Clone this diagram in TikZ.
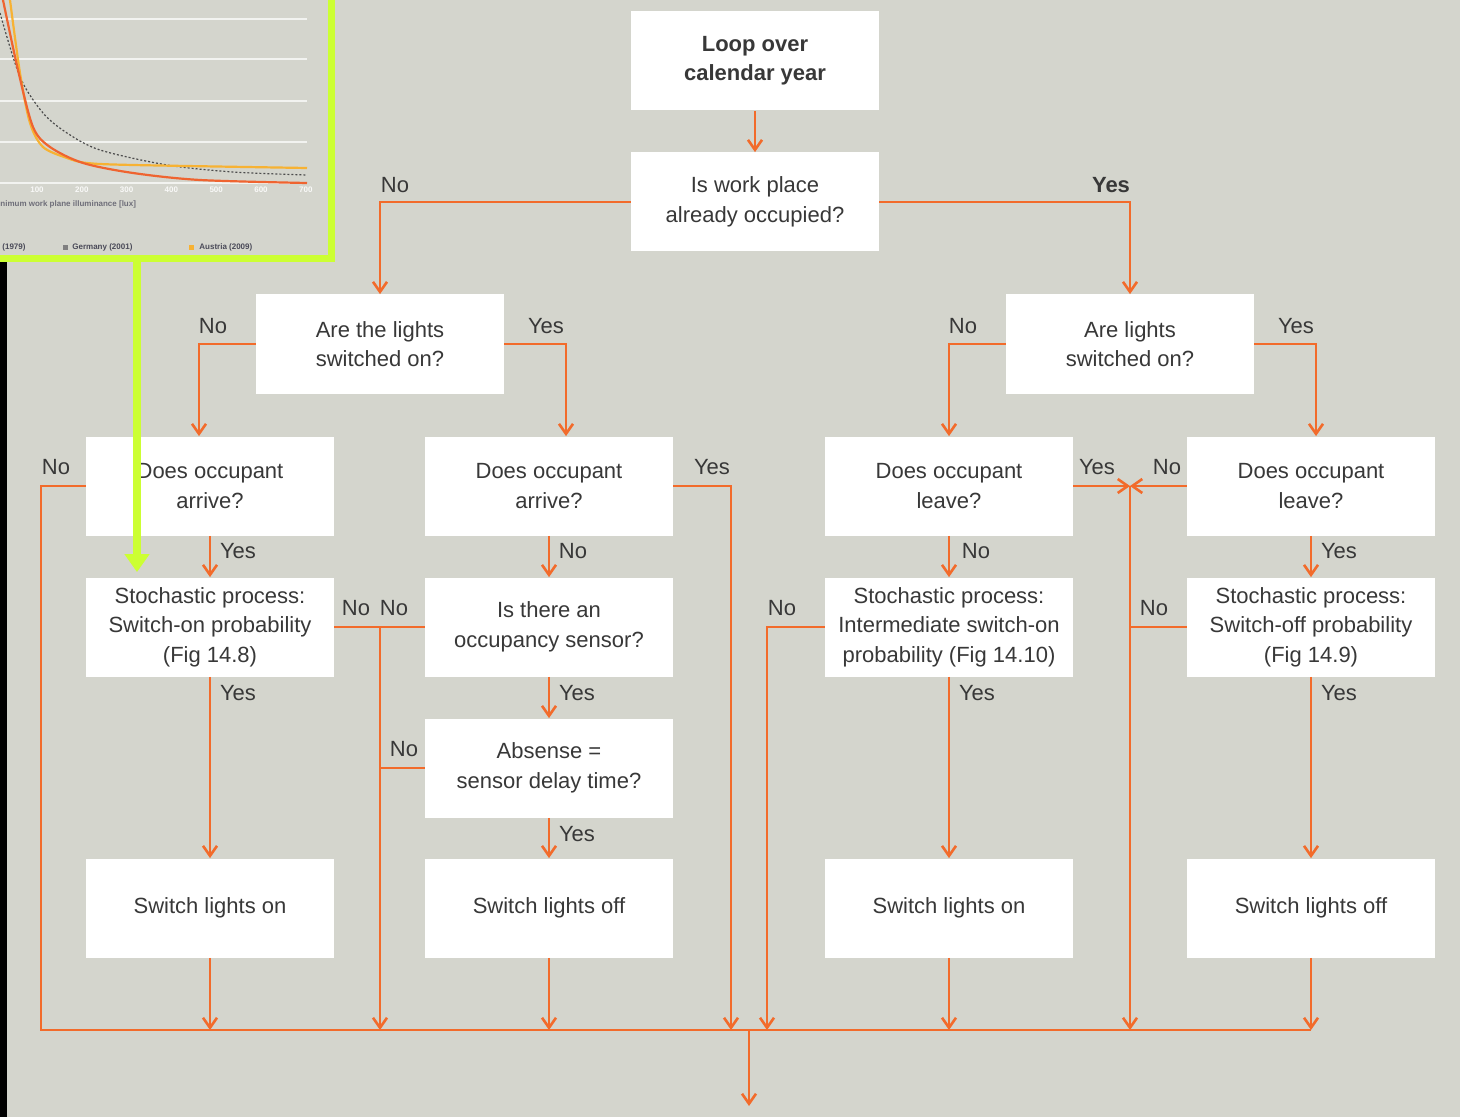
\documentclass[tikz,border=0pt]{standalone}
\usepackage{fontspec}
\setmainfont{Liberation Sans}
\usetikzlibrary{arrows.meta}

\definecolor{bggray}{HTML}{D4D5CD}
\definecolor{flowred}{HTML}{F26B2B}
\definecolor{txtgray}{HTML}{383838}
\definecolor{limegreen}{HTML}{CCFF33}
\definecolor{curvegold}{HTML}{F7B233}
\definecolor{curvered}{HTML}{EF6430}
\definecolor{legendtxt}{HTML}{4A4A58}

\newcommand{\boxfont}{\fontsize{11}{14.7}\selectfont}
\newcommand{\chartfont}{\fontsize{4}{4.5}\selectfont\bfseries}

\tikzset{
  box/.style={fill=white, minimum width=124pt, minimum height=49.5pt, inner sep=0pt, align=center, font=\boxfont, text=txtgray},
  lbl/.style={font=\boxfont, text=txtgray, inner sep=0pt},
  flow/.style={draw=flowred, line width=1.3pt},
  arr/.style={flow, -{Straight Barb[length=5pt,width=7pt]}},
  chartlbl/.style={font=\chartfont, inner sep=0pt}
}

\begin{document}
\begin{tikzpicture}[x=0.5pt, y=-0.5pt]
  \useasboundingbox (0,0) rectangle (1460,1117);
  \fill[bggray] (0,0) rectangle (1460,1117);

  % chart inset, top left
  \begin{scope}
    \clip (0,0) rectangle (331,258);
    \foreach \gy in {19,59,101,142,183}
      \draw[white!70!bggray, line width=0.6pt] (0,\gy) -- (307,\gy);
    \draw[gray!60!black, line width=0.6pt, dash pattern=on 1pt off 1pt] plot[smooth] coordinates {(0,13) (20,77) (43,113) (67,133) (100,150) (167,165) (233,172) (307,175)};
    \draw[curvegold, line width=1.1pt] plot[smooth] coordinates {(10,0) (20,73) (30,123) (43,147) (67,158) (87,163) (133,165) (307,168)};
    \draw[curvered, line width=1.1pt] plot[smooth] coordinates {(3,0) (18,70) (33,127) (50,147) (83,163) (133,173) (200,180) (307,183)};
    \foreach \tick [count=\k] in {100,200,...,700}
      \node[chartlbl, text=white!85!bggray] (tick\k) at ({37+44.8*(\k-1)},190) {\tick};
    \node[chartlbl, text=legendtxt!80!white, anchor=west] (axisname) at (0,204) {nimum work plane illuminance [lux]};
    \node[chartlbl, text=legendtxt, anchor=west] (legUK) at (2,247) {(1979)};
    \fill[gray] (63,245) rectangle (68,250);
    \node[chartlbl, text=legendtxt, anchor=west] (legDE) at (72,247) {Germany (2001)};
    \fill[curvegold] (189,245) rectangle (194,250);
    \node[chartlbl, text=legendtxt, anchor=west] (legAT) at (199,247) {Austria (2009)};
  \end{scope}
  \fill[black] (0,262) rectangle (7,1117);

  % boxes
  \node[box, font=\boxfont\bfseries] (loop) at (755,61) {Loop over\\calendar year};
  \node[box] (work) at (755,202) {Is work place\\already occupied?};
  \node[box] (lightsL) at (380,344) {Are the lights\\switched on?};
  \node[box] (lightsR) at (1130,344) {Are lights\\switched on?};
  \node[box] (arrive1) at (210,486) {Does occupant\\arrive?};
  \node[box] (arrive2) at (549,486) {Does occupant\\arrive?};
  \node[box] (leave1) at (949,486) {Does occupant\\leave?};
  \node[box] (leave2) at (1311,486) {Does occupant\\leave?};
  \node[box] (probOn) at (210,627) {Stochastic process:\\Switch-on probability\\(Fig 14.8)};
  \node[box] (sensor) at (549,627) {Is there an\\occupancy sensor?};
  \node[box] (probMid) at (949,627) {Stochastic process:\\Intermediate switch-on\\probability (Fig 14.10)};
  \node[box] (probOff) at (1311,627) {Stochastic process:\\Switch-off probability\\(Fig 14.9)};
  \node[box] (delay) at (549,768) {Absense =\\sensor delay time?};
  \node[box] (on1) at (210,908) {Switch lights on};
  \node[box] (off1) at (549,908) {Switch lights off};
  \node[box] (on2) at (949,908) {Switch lights on};
  \node[box] (off2) at (1311,908) {Switch lights off};

  % junction points
  \coordinate (bl) at (41,1030);
  \coordinate (br) at (1311,1030);
  \coordinate (jOn) at (380,1030);
  \coordinate (jArr) at (731,1030);
  \coordinate (jMid) at (767,1030);
  \coordinate (cross) at (1130,486);
  \coordinate (jOff) at (1130,1030);
  \coordinate (exitTop) at (749,1030);
  \coordinate (exitEnd) at (749,1106);

  % connectors
  \draw[arr] (loop) -- (work);
  \draw[arr] (work.west) -| (lightsL.north);
  \draw[arr] (work.east) -| (lightsR.north);
  \draw[arr] (lightsL.west) -| ([xshift=-5.5pt]arrive1.north);
  \draw[arr] (lightsL.east) -| ([xshift=8.5pt]arrive2.north);
  \draw[arr] (lightsR.west) -| (leave1.north);
  \draw[arr] (lightsR.east) -| ([xshift=2.5pt]leave2.north);

  \draw[flow] (arrive1.west) -| (bl) -- (br);
  \draw[arr] (arrive1) -- (probOn);
  \draw[arr] (probOn) -- (on1);
  \draw[flow] (probOn.east) -- (sensor.west);
  \draw[arr] (probOn.east -| jOn) -- (jOn);
  \draw[flow] (delay.west) -- (delay.west -| jOn);
  \draw[arr] (on1) -- (on1 |- bl);

  \draw[arr] (arrive2.east) -| (jArr);
  \draw[arr] (arrive2) -- (sensor);
  \draw[arr] (sensor) -- (delay);
  \draw[arr] (delay) -- (off1);
  \draw[arr] (off1) -- (off1 |- bl);

  \draw[arr] (leave1) -- (probMid);
  \draw[arr] (probMid.west) -| (jMid);
  \draw[arr] (probMid) -- (on2);
  \draw[arr] (on2) -- (on2 |- bl);

  \draw[arr] (leave1.east) -- (cross);
  \draw[arr] (leave2.west) -- (cross);
  \draw[arr] (cross) -- (jOff);
  \draw[arr] (leave2) -- (probOff);
  \draw[flow] (probOff.west) -- (probOff.west -| cross);
  \draw[arr] (probOff) -- (off2);
  \draw[arr] (off2) -- (br);

  \draw[arr] (exitTop) -- (exitEnd);

  % labels
  \node[lbl] (lWorkNo) at (395,185) {No};
  \node[lbl, font=\boxfont\bfseries] (lWorkYes) at (1111,185) {Yes};
  \node[lbl] (lLightsLNo) at (213,326) {No};
  \node[lbl] (lLightsLYes) at (546,326) {Yes};
  \node[lbl] (lLightsRNo) at (963,326) {No};
  \node[lbl] (lLightsRYes) at (1296,326) {Yes};
  \node[lbl] (lArrive1No) at (56,467) {No};
  \node[lbl] (lArrive2Yes) at (712,467) {Yes};
  \node[lbl] (lLeave1Yes) at (1097,467) {Yes};
  \node[lbl] (lLeave2No) at (1167,467) {No};
  \node[lbl] (lArrive1Yes) at (238,551) {Yes};
  \node[lbl] (lArrive2No) at (573,551) {No};
  \node[lbl] (lLeave1No) at (976,551) {No};
  \node[lbl] (lLeave2Yes) at (1339,551) {Yes};
  \node[lbl] (lProbOnNo) at (356,608) {No};
  \node[lbl] (lSensorNo) at (394,608) {No};
  \node[lbl] (lProbMidNo) at (782,608) {No};
  \node[lbl] (lProbOffNo) at (1154,608) {No};
  \node[lbl] (lProbOnYes) at (238,693) {Yes};
  \node[lbl] (lSensorYes) at (577,693) {Yes};
  \node[lbl] (lProbMidYes) at (977,693) {Yes};
  \node[lbl] (lProbOffYes) at (1339,693) {Yes};
  \node[lbl] (lDelayNo) at (404,749) {No};
  \node[lbl] (lDelayYes) at (577,834) {Yes};

  % green frame and pointer over the boxes
  \coordinate (gFoot) at (137,259);
  \draw[limegreen, line width=3.5pt] (-20,-20) rectangle (331.5,258.5);
  \draw[limegreen, line width=4pt, shorten >=2.5pt, -{Triangle[length=9pt,width=12pt]}] (gFoot) -- (gFoot |- probOn.north);
\end{tikzpicture}
\end{document}
